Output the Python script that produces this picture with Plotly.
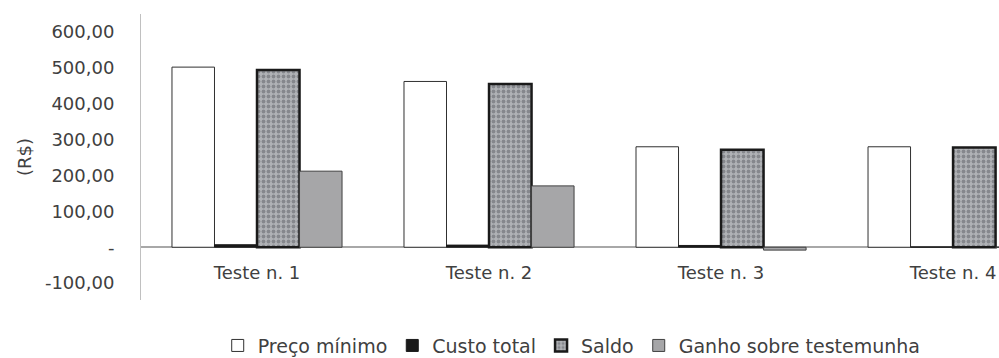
import plotly.graph_objects as go

categories = ["Teste n. 1", "Teste n. 2", "Teste n. 3", "Teste n. 4"]
preco_minimo = [502, 462, 280, 280]
custo_total = [7, 6, 5, 1]
saldo = [494, 455, 272, 278]
ganho_testemunha = [212, 171, -8, 0]

tick_vals = [-100, 0, 100, 200, 300, 400, 500, 600]
tick_text = ["-100,00", "-", "100,00", "200,00", "300,00", "400,00", "500,00", "600,00"]

y_range = [-147, 650]

font_family = "DejaVu Sans, Liberation Sans, Arial, sans-serif"
text_color = "#404040"

fig = go.Figure()
fig.add_trace(go.Bar(
    name="Preço mínimo", x=categories, y=preco_minimo,
    marker=dict(color="white", line=dict(color="#303030", width=1)),
))
fig.add_trace(go.Bar(
    name="Custo total", x=categories, y=custo_total,
    marker=dict(color="#1a1a1a", line=dict(color="#1a1a1a", width=1)),
))
fig.add_trace(go.Bar(
    name="Saldo", x=categories, y=saldo,
    marker=dict(
        color="#a4a6aa",
        line=dict(color="#1a1a1a", width=2.5),
        pattern=dict(shape=".", fgcolor="#5a5c61", bgcolor="#b0b2b6", size=5, solidity=0.45),
    ),
))
fig.add_trace(go.Bar(
    name="Ganho sobre testemunha", x=categories, y=ganho_testemunha,
    marker=dict(color="#a6a6a8", line=dict(color="#404040", width=1)),
))

zero_pos = (0 - y_range[0]) / (y_range[1] - y_range[0])

fig.update_layout(
    width=999, height=358,
    margin=dict(l=141, r=0, t=14, b=58, autoexpand=False),
    paper_bgcolor="white", plot_bgcolor="white",
    barmode="group", bargap=0.267, bargroupgap=0,
    font=dict(family=font_family, size=18, color=text_color),
    showlegend=True,
    legend=dict(
        orientation="h", x=0.502, xref="paper", xanchor="center",
        y=-0.093, yanchor="top",
        font=dict(size=19, color=text_color),
        itemwidth=30, traceorder="normal",
    ),
    xaxis=dict(
        type="category", range=[-0.5, 3.198],
        anchor="free", position=zero_pos,
        showline=False, showgrid=False, ticks="",
        tickfont=dict(size=18, color=text_color),
        ticklabelstandoff=13,
    ),
    yaxis=dict(
        range=y_range,
        tickvals=tick_vals, ticktext=tick_text,
        showgrid=False, showline=True, linecolor="#c0c0c0", linewidth=1,
        zeroline=True, zerolinecolor="#a8a8a8", zerolinewidth=1.5,
        ticks="", ticklabelstandoff=22,
        tickfont=dict(size=18, color=text_color),
        title=dict(text="(R$)", font=dict(size=18, color=text_color), standoff=8),
    ),
)

fig.write_html(
    "out.html",
    config={"displayModeBar": False},
    post_script="document.body.style.margin='0';document.body.style.overflow='hidden';",
)
